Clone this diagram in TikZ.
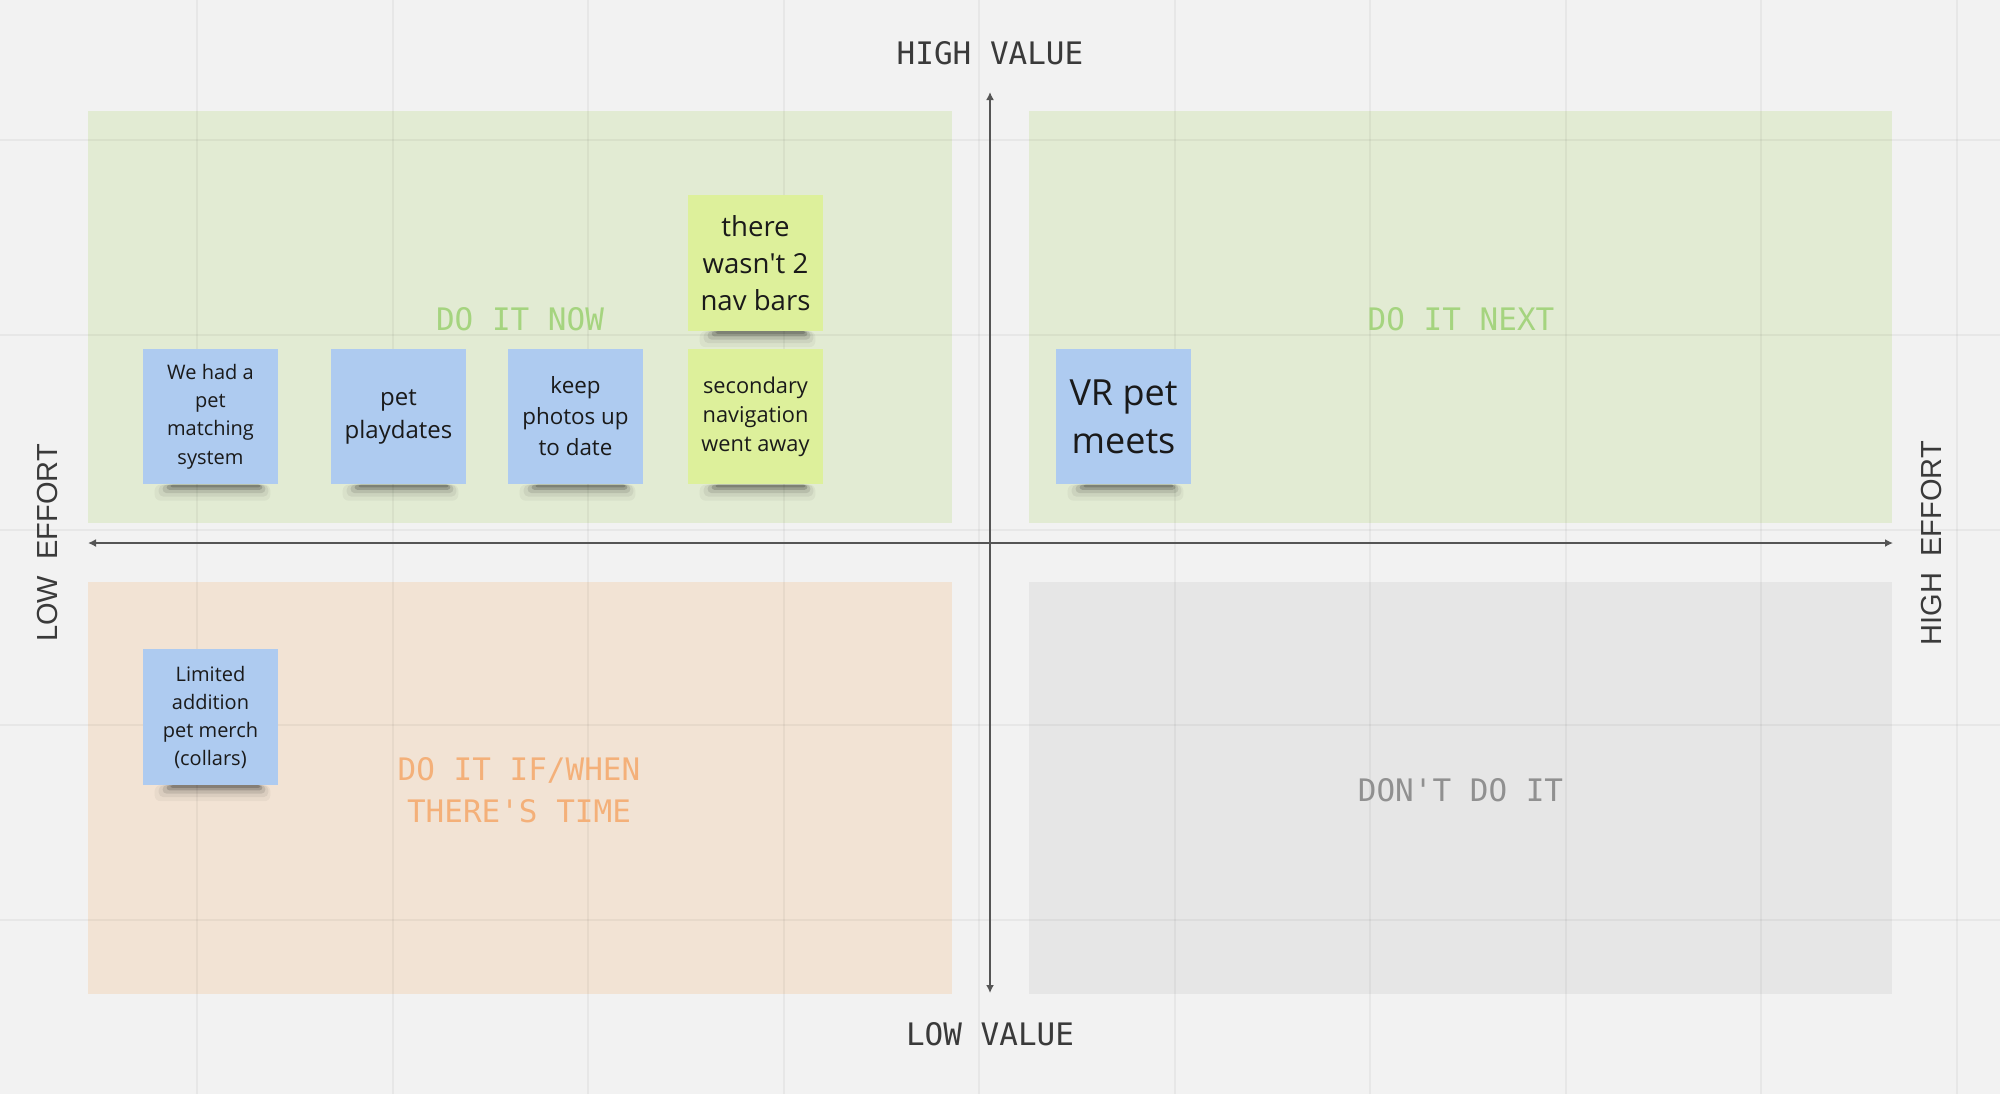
\documentclass[tikz,border=0pt]{standalone}
\usepackage{fontspec}
\setmainfont{Open Sans}
\newfontfamily\monof{DejaVu Sans Mono}
\newfontfamily\effortf{Liberation Sans}
\usetikzlibrary{arrows.meta}
\definecolor{bgc}{HTML}{F2F2F2}
\definecolor{greenq}{HTML}{E2EBD3}
\definecolor{orangeq}{HTML}{F2E3D4}
\definecolor{grayq}{HTML}{E6E6E6}
\definecolor{greenlab}{HTML}{A5D47F}
\definecolor{orangelab}{HTML}{F4B079}
\definecolor{graylab}{HTML}{909090}
\definecolor{axistext}{HTML}{3A3A3A}
\definecolor{axisline}{HTML}{555555}
\definecolor{bluenotec}{HTML}{AECBF0}
\definecolor{yellownotec}{HTML}{DDF09B}
\definecolor{notetext}{HTML}{1A1A1A}
\tikzset{
  gridline/.style={black, opacity=0.045, line width=1pt},
  axisarrow/.style={draw=axisline, line width=0.9pt, {Latex[length=4pt,width=4pt]}-{Latex[length=4pt,width=4pt]}},
  axislabel/.style={text=axistext, font=\monof\fontsize{15.5}{18}\selectfont, inner sep=0pt},
  effortlabel/.style={text=axistext, font=\effortf\fontsize{14.5}{17}\selectfont, inner sep=0pt, rotate=90},
  quadlabel/.style={font=\monof\fontsize{15.5}{21}\selectfont, inner sep=0pt, align=center},
  note/.style={minimum width=67.5pt, minimum height=67.8pt, inner sep=0pt, align=center, text=notetext},
  bluenote/.style={note, fill=bluenotec},
  yellownote/.style={note, fill=yellownotec},
}
\begin{document}
\begin{tikzpicture}[x=0.5pt,y=-0.5pt]
\useasboundingbox (0,0) rectangle (2000,1094);
\fill[bgc] (0,0) rectangle (2000,1094);
% quadrants
\fill[greenq] (88,111) rectangle (951.5,523);
\fill[greenq] (1029,111) rectangle (1892,523);
\fill[orangeq] (88,582) rectangle (951.5,994);
\fill[grayq] (1029,582) rectangle (1892,994);
% grid
\foreach \i in {0,...,9} { \draw[gridline] ({197+195.5*\i},0) -- ({197+195.5*\i},1094); }
\foreach \j in {0,...,4} { \draw[gridline] (0,{140+195*\j}) -- (2000,{140+195*\j}); }
% axes
\coordinate (vtop) at (990,92);
\coordinate (vbot) at (990,993);
\coordinate (hleft) at (88,543);
\coordinate (hright) at (1893,543);
\draw[axisarrow] (vtop) -- (vbot);
\draw[axisarrow] (hleft) -- (hright);
% axis labels
\node[axislabel] (highvalue) at (990,53) {HIGH VALUE};
\node[axislabel] (lowvalue) at (990,1034) {LOW VALUE};
\node[effortlabel] (loweffort) at (48,543) {LOW\ \ EFFORT};
\node[effortlabel] (higheffort) at (1931,543) {HIGH\ \ EFFORT};
% quadrant labels
\node[quadlabel, text=greenlab] (doitnow) at (520,319) {DO IT NOW};
\node[quadlabel, text=greenlab] (doitnext) at (1461,319) {DO IT NEXT};
\node[quadlabel, text=orangelab] (doitif) at (519,790) {DO IT IF/WHEN\\THERE'S TIME};
\node[quadlabel, text=graylab] (dontdoit) at (1460.5,790) {DON'T DO IT};
% sticky notes
\node[bluenote, font=\fontsize{10}{14.2}\selectfont] (n1) at (210.5,416.5) {We had a\\pet\\matching\\system};
\node[bluenote, font=\fontsize{12}{16.5}\selectfont] (n2) at (398.5,416.5) {pet\\playdates};
\node[bluenote, font=\fontsize{11.2}{15.5}\selectfont] (n3) at (575.5,416.5) {keep\\photos up\\to date};
\node[yellownote, font=\fontsize{10.9}{14.5}\selectfont] (n4) at (755.5,416.5) {secondary\\navigation\\went away};
\node[yellownote, font=\fontsize{13.8}{18.5}\selectfont] (n5) at (755.5,263) {there\\wasn\textquotesingle t 2\\nav bars};
\node[bluenote, font=\fontsize{18}{24}\selectfont] (n6) at (1123.5,416.5) {VR pet\\meets};
\node[bluenote, font=\fontsize{10}{14}\selectfont] (n7) at (210.5,717) {Limited\\addition\\pet merch\\(collars)};
% shadows
\foreach \n in {n1,n2,n3,n4,n5,n6,n7} {
  \fill[black, opacity=0.04, rounded corners=3pt] ([xshift=6pt]\n.south west) rectangle ([xshift=-4pt,yshift=-8pt]\n.south east);
  \fill[black, opacity=0.06, rounded corners=2.5pt] ([xshift=8pt]\n.south west) rectangle ([xshift=-5pt,yshift=-6pt]\n.south east);
  \fill[black, opacity=0.10, rounded corners=2pt] ([xshift=10pt]\n.south west) rectangle ([xshift=-6.5pt,yshift=-4.2pt]\n.south east);
  \fill[black, opacity=0.16, rounded corners=1.5pt] ([xshift=12pt]\n.south west) rectangle ([xshift=-8pt,yshift=-2.6pt]\n.south east);
  \fill[black, opacity=0.18, rounded corners=1pt] ([xshift=14pt]\n.south west) rectangle ([xshift=-9pt,yshift=-1.3pt]\n.south east);
}
\end{tikzpicture}
\end{document}
